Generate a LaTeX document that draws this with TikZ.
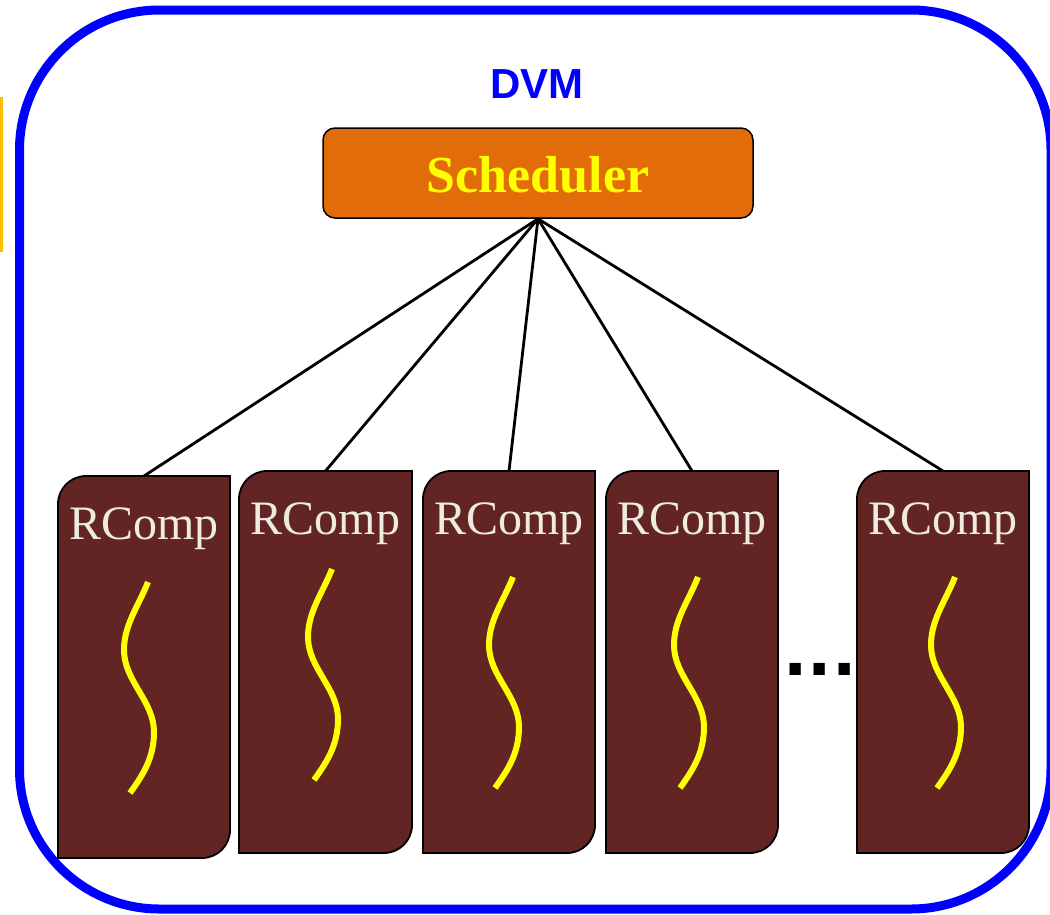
\documentclass[tikz,border=0pt]{standalone}
\usepackage{fontspec}
\newfontfamily\labelserif{Liberation Serif}
\newfontfamily\labelsans{Liberation Sans}
\newfontfamily\dotfont{DejaVu Sans}

\definecolor{frameblue}{RGB}{0,0,255}
\definecolor{schedorange}{RGB}{227,108,10}
\definecolor{rcompbrown}{RGB}{99,37,35}
\definecolor{rcompbeige}{RGB}{238,236,225}
\definecolor{threadyellow}{RGB}{255,255,0}
\definecolor{edgegold}{RGB}{255,192,0}

\tikzset{
  frame/.style={draw=frameblue, line width=9pt, rounded corners=140pt},
  schedbox/.style={draw=black, line width=1.5pt, fill=schedorange, rounded corners=12pt,
    minimum width=430pt, minimum height=90pt, inner sep=0pt},
  schedtext/.style={text=threadyellow, font=\labelserif\bfseries\fontsize{52}{52}\selectfont},
  dvmtext/.style={text=frameblue, font=\labelsans\bfseries\fontsize{42}{42}\selectfont},
  rcompshape/.style={draw=black, line width=1.8pt, fill=rcompbrown},
  rcomptext/.style={text=rcompbeige, font=\labelserif\fontsize{48}{48}\selectfont, anchor=base, inner sep=0pt},
  link/.style={draw=black, line width=2.8pt},
  threadline/.style={draw=threadyellow, line width=6pt, line cap=butt},
  thread/.pic={\draw[threadline] (4,106) .. controls (-6,131) and (-20,149) .. (-20,174)
      .. controls (-20,205) and (10,225) .. (10,256)
      .. controls (10,283) and (-2,300) .. (-14,317);},
}

% one process box: rounded top-left and bottom-right corners
\newcommand{\rcompbox}[5]{%
  \path[rcompshape] (#2,#5) -- (#2,#3+28) .. controls (#2,#3+12.5) and (#2+12.5,#3) .. (#2+28,#3)
    -- (#4,#3) -- (#4,#5-28) .. controls (#4,#5-12.5) and (#4-12.5,#5) .. (#4-28,#5) -- cycle;
  \coordinate (#1) at ({(#2+#4)/2},#3);
  \node[rcomptext] (#1-label) at ({(#2+#4)/2},#3+63) {RComp};
}

\begin{document}
\begin{tikzpicture}[x=1pt, y=-1pt]
  \useasboundingbox (0,0) rectangle (1050,914);
  \clip (0,0) rectangle (1050,914);

  % outer virtual machine frame
  \draw[frame] (19.5,10) rectangle (1051,909);
  \fill[edgegold] (0,97) rectangle (2.5,252);

  \node[dvmtext, anchor=base] (dvm) at (537,98) {DVM};

  \node[schedbox] (sched) at (538,173) {};
  \node[schedtext, anchor=base] (schedlabel) at (538,192) {Scheduler};

  % process boxes
  \rcompbox{r1}{58}{476}{230}{858}
  \rcompbox{r2}{239}{471}{412}{853}
  \rcompbox{r3}{423}{471}{595}{853}
  \rcompbox{r4}{606}{471}{778}{853}
  \rcompbox{r5}{857}{471}{1029}{853}

  % threads
  \pic at (144,476) {thread};
  \pic at (328,463) {thread};
  \pic at (509,471) {thread};
  \pic at (694,471) {thread};
  \pic at (951,471) {thread};

  % scheduler links
  \foreach \r in {r1,r2,r3,r4,r5}
    \draw[link] (sched.south) -- (\r);

  \node[anchor=base, inner sep=0pt, font=\dotfont\bfseries\fontsize{64}{64}\selectfont] (dots) at (820,675) {...};
\end{tikzpicture}
\end{document}
